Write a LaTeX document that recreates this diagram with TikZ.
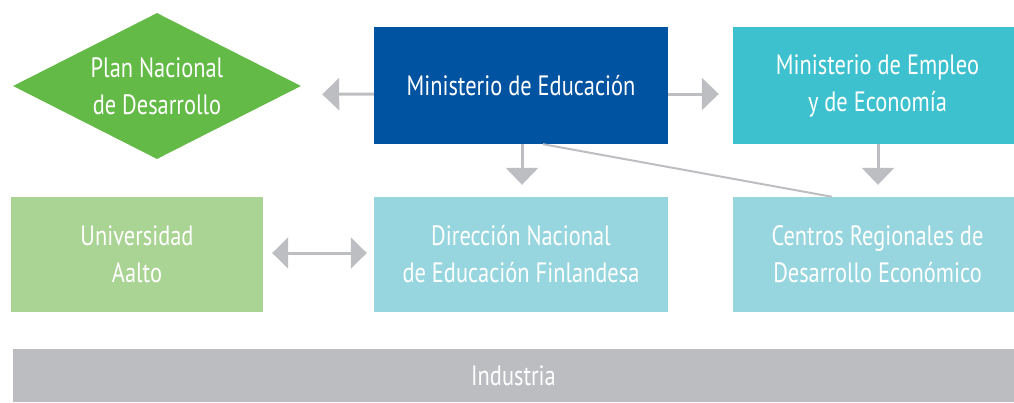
\documentclass[tikz,border=0pt]{standalone}
\usepackage{fontspec}
\setmainfont{PT Sans}[FakeStretch=0.80]
\usetikzlibrary{shapes.geometric,arrows.meta}
\definecolor{cgreen}{HTML}{63BA47}
\definecolor{cblue}{HTML}{0053A0}
\definecolor{cteal}{HTML}{3EC1CE}
\definecolor{clgreen}{HTML}{AAD493}
\definecolor{clteal}{HTML}{97D6DF}
\definecolor{cgray}{HTML}{BCBDC1}
\definecolor{carrow}{HTML}{BDBEC2}
\tikzset{
  lbl/.style={text=white,align=center,font=\fontsize{28}{37}\selectfont},
  box/.style={lbl,rectangle,inner sep=0pt,anchor=center},
  arr/.style={draw=carrow,line width=3pt,-{Triangle[length=17pt,width=32pt]}},
  darr/.style={draw=carrow,line width=3pt,{Triangle[length=16pt,width=31pt]}-{Triangle[length=16pt,width=31pt]}},
  thin/.style={draw=carrow,line width=2pt}
}
\begin{document}
\begin{tikzpicture}[x=1pt,y=-1pt]
\useasboundingbox (0,0) rectangle (1014,402);
\node[lbl,diamond,shape aspect=1.97,fill=cgreen,inner sep=0pt,minimum width=288pt,minimum height=146pt] (plan) at (157,86) {Plan Nacional\\de Desarrollo};
\node[box,fill=cblue,minimum width=294pt,minimum height=117pt] (mined) at (521,85.5) {Ministerio de Educación};
\node[box,fill=cteal,minimum width=281pt,minimum height=117pt] (minemp) at (873.5,85.5) {\hspace*{8pt}Ministerio de Empleo\\\hspace*{8pt}y de Economía};
\node[box,fill=clgreen,minimum width=252pt,minimum height=115pt] (aalto) at (137,254.5) {Universidad\\Aalto};
\node[box,fill=clteal,minimum width=294pt,minimum height=115pt] (dir) at (521,254.5) {Dirección Nacional\\de Educación Finlandesa};
\node[box,fill=clteal,minimum width=281pt,minimum height=115pt] (centros) at (873.5,254.5) {\hspace*{8pt}Centros Regionales de\\\hspace*{8pt}Desarrollo Económico};
\node[box,fill=cgray,minimum width=1001pt,minimum height=53pt] (ind) at (513.5,375.5) {Industria};
\draw[arr,shorten >=21pt] ([yshift=-8.5pt]mined.west) -- ([yshift=-8.5pt]plan.east);
\draw[arr,shorten >=14pt] ([yshift=-8.5pt]mined.east) -- ([yshift=-8.5pt]minemp.west);
\draw[arr,shorten >=12pt] ([xshift=1pt]mined.south) -- ([xshift=1pt]dir.north);
\draw[arr,shorten >=12pt] ([xshift=4.5pt]minemp.south) -- ([xshift=4.5pt]centros.north);
\draw[darr,shorten <=9pt,shorten >=7pt] ([yshift=1.5pt]aalto.east) -- ([yshift=1.5pt]dir.west);
\draw[thin] ([xshift=22pt]mined.south) -- ([xshift=-41.5pt]centros.north);
\end{tikzpicture}
\end{document}
